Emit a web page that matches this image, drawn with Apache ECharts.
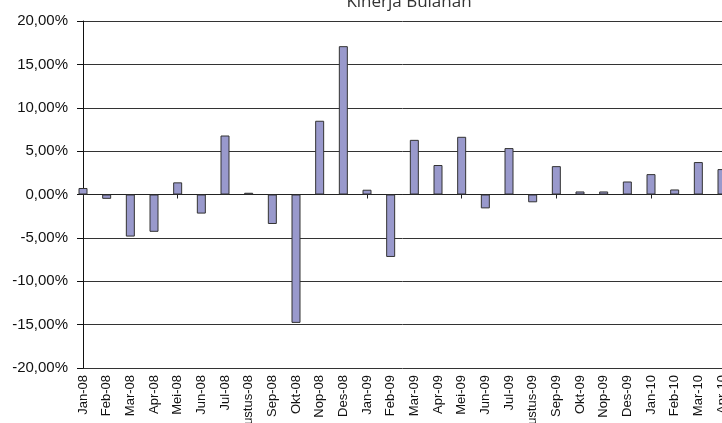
<!DOCTYPE html>
<html>
<head>
<meta charset="utf-8">
<script src="https://cdn.jsdelivr.net/npm/echarts@6/dist/echarts.min.js"></script>
<style>
  html, body { margin: 0; padding: 0; background: #fff; }
  #main { width: 722px; height: 423px; }
</style>
</head>
<body>
<div id="main"></div>
<script>
// bulan (kategori)
var months = ['Jan-08', 'Feb-08', 'Mar-08', 'Apr-08', 'Mei-08', 'Jun-08', 'Jul-08', 'Agustus-08',
    'Sep-08', 'Okt-08', 'Nop-08', 'Des-08', 'Jan-09', 'Feb-09', 'Mar-09', 'Apr-09', 'Mei-09',
    'Jun-09', 'Jul-09', 'Agustus-09', 'Sep-09', 'Okt-09', 'Nop-09', 'Des-09', 'Jan-10',
    'Feb-10', 'Mar-10', 'Apr-10'];
// kinerja bulanan dalam persen
var kinerja = [0.75, -0.5, -4.85, -4.3, 1.4, -2.2, 6.8, 0.2,
    -3.4, -14.8, 8.5, 17.1, 0.55, -7.2, 6.3, 3.4, 6.65,
    -1.6, 5.35, -0.9, 3.27, 0.35, 0.35, 1.5, 2.35,
    0.58, 3.74, 2.93];
var yTicks = { min: -20, max: 20, step: 5 };

window.addEventListener('load', function () {
    var myChart = echarts.init(document.getElementById('main'));
    var option = {
        animation: false,
        backgroundColor: '#fff',
        title: {
            text: 'Kinerja Bulanan',
            left: 404,
            top: -11,
            textAlign: 'center',
            textStyle: {
                fontFamily: 'Open Sans',
                fontSize: 17,
                fontWeight: 'normal',
                color: '#333'
            }
        },
        grid: {
            left: 83,
            right: 0,
            top: 21,
            bottom: 55,
            containLabel: false,
            outerBoundsMode: 'none'
        },
        xAxis: [
            {
                type: 'category',
                data: months,
                boundaryGap: false,
                axisLine: { onZero: true, lineStyle: { color: '#222', width: 1 } },
                axisTick: { show: true, length: 4, inside: false, lineStyle: { color: '#222' } },
                axisLabel: { show: false },
                splitLine: { show: false }
            },
            {
                type: 'category',
                data: months,
                boundaryGap: false,
                position: 'bottom',
                axisLine: { show: false, onZero: false },
                axisTick: { show: false },
                axisLabel: {
                    show: true,
                    interval: 0,
                    rotate: 90,
                    margin: 7,
                    hideOverlap: false,
                    fontFamily: 'Liberation Sans',
                    fontSize: 13,
                    color: '#111'
                }
            }
        ],
        yAxis: {
            type: 'value',
            min: yTicks.min,
            max: yTicks.max,
            interval: yTicks.step,
            axisLine: { show: true, lineStyle: { color: '#111' } },
            axisTick: { show: true, length: 6, lineStyle: { color: '#111' } },
            axisLabel: {
                margin: 15,
                fontFamily: 'Liberation Sans',
                fontSize: 15,
                color: '#111',
                formatter: function (v) {
                    return v.toFixed(2).replace('.', ',') + '%';
                }
            },
            splitLine: { show: true, lineStyle: { color: '#333', width: 1 } }
        },
        series: [{
            name: 'Kinerja',
            type: 'bar',
            xAxisIndex: 0,
            data: kinerja,
            barWidth: 9,
            clip: true,
            itemStyle: {
                color: '#9999cc',
                borderColor: '#333',
                borderWidth: 1
            }
        }]
    };
    myChart.setOption(option);
});
</script>
</body>
</html>
